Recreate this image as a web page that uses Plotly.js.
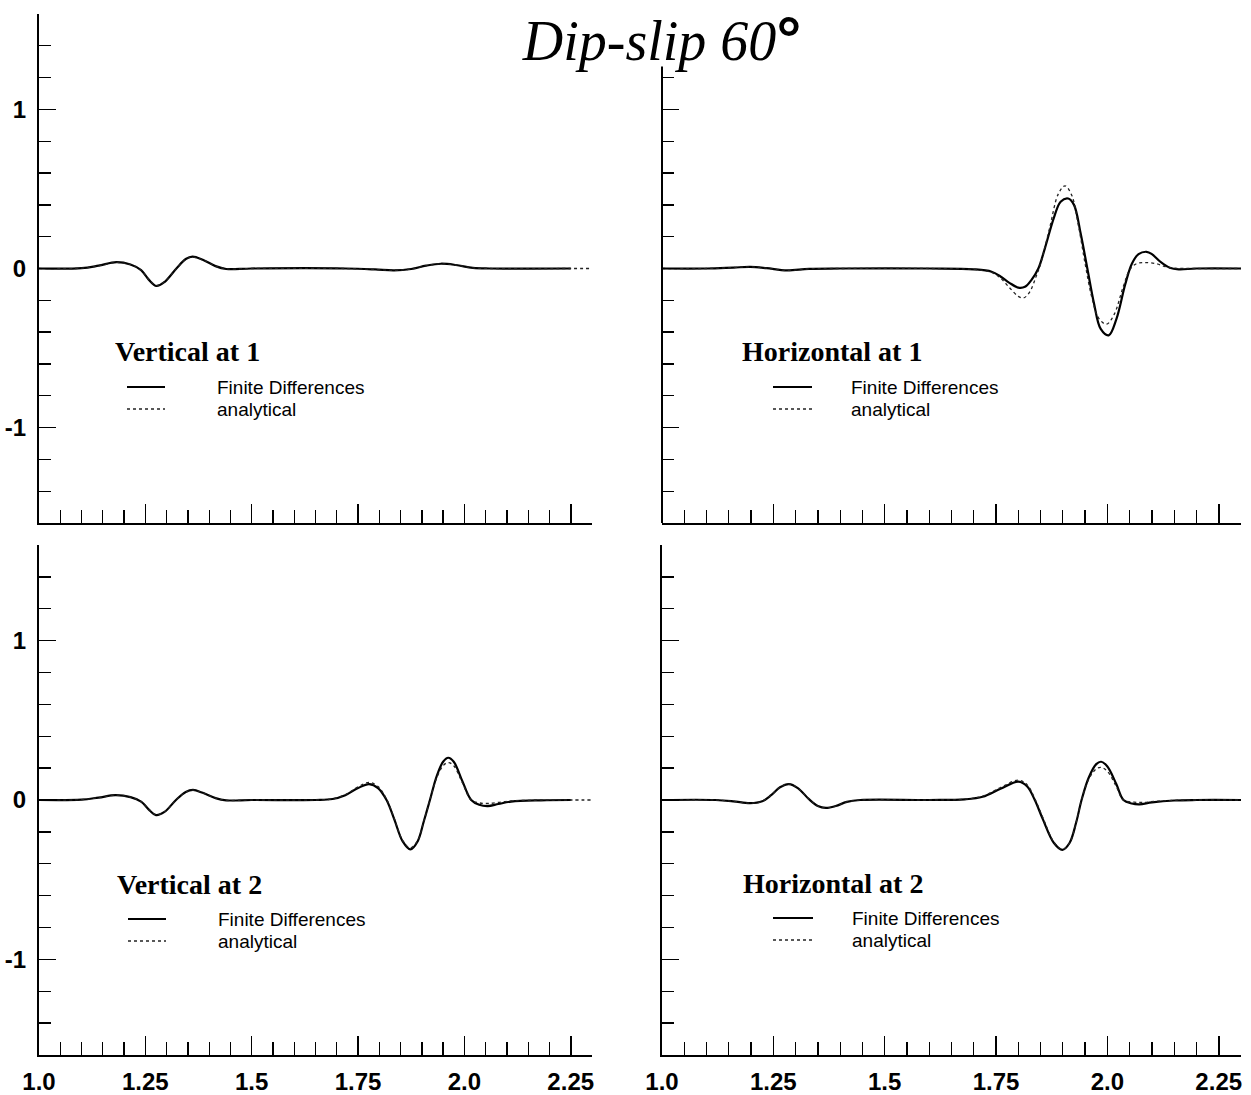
<!DOCTYPE html>
<html>
<head>
<meta charset="utf-8">
<script src="https://cdn.plot.ly/plotly-3.0.1.min.js"></script>
<style>html,body{margin:0;padding:0;background:#fff;}#chart{width:1251px;height:1095px;}</style>
</head>
<body>
<div id="chart"></div>
<script>
// ---------- data (time, amplitude) ----------
// Vertical at 1
const tV1FD = [1.00,1.10,1.14,1.182,1.215,1.24,1.258,1.276,1.295,1.323,1.345,1.361,1.385,1.415,1.44,1.50,1.72,1.79,1.835,1.875,1.91,1.945,1.98,2.02,2.06,2.25];
const v1FD  = [0,0.002,0.018,0.04,0.025,-0.01,-0.07,-0.11,-0.085,0,0.06,0.075,0.055,0.015,-0.003,0,0,-0.006,-0.012,-0.003,0.018,0.03,0.022,0.004,0,0];
const tV1AN = [1.00,1.10,1.14,1.182,1.215,1.24,1.258,1.276,1.295,1.323,1.345,1.361,1.385,1.415,1.44,1.50,1.72,1.79,1.835,1.875,1.91,1.945,1.98,2.02,2.06,2.25,2.30];
const v1AN  = [0,0.002,0.017,0.038,0.025,-0.01,-0.068,-0.106,-0.083,0,0.058,0.072,0.054,0.015,-0.002,0,0,-0.006,-0.011,-0.003,0.018,0.029,0.022,0.004,0,0,0];

// Horizontal at 1
const tH1FD = [1.00,1.10,1.16,1.198,1.235,1.28,1.33,1.40,1.60,1.70,1.74,1.76,1.78,1.80,1.815,1.83,1.845,1.86,1.88,1.895,1.912,1.925,1.94,1.955,1.97,1.985,2.003,2.02,2.04,2.055,2.07,2.088,2.10,2.12,2.14,2.16,2.20,2.30];
const h1FD  = [0,0,0.006,0.01,0.002,-0.012,-0.002,0,0,-0.005,-0.02,-0.05,-0.09,-0.12,-0.115,-0.07,0,0.13,0.32,0.42,0.44,0.40,0.22,0,-0.22,-0.38,-0.42,-0.32,-0.10,0.03,0.09,0.105,0.09,0.04,0.005,-0.005,0,0];
const tH1AN = [1.00,1.10,1.16,1.198,1.235,1.28,1.33,1.40,1.60,1.70,1.74,1.76,1.78,1.80,1.812,1.825,1.84,1.85,1.87,1.89,1.905,1.92,1.935,1.95,1.965,1.98,1.998,2.015,2.035,2.05,2.065,2.085,2.11,2.13,2.15,2.20,2.30];
const h1AN  = [0,0,0.006,0.01,0.002,-0.012,-0.002,0,0,-0.006,-0.025,-0.06,-0.12,-0.175,-0.185,-0.15,-0.05,0.03,0.25,0.47,0.52,0.46,0.27,0.03,-0.18,-0.31,-0.35,-0.29,-0.12,-0.01,0.03,0.037,0.03,0.012,0.002,0,0];

// Vertical at 2
const tV2FD = [1.00,1.10,1.14,1.18,1.215,1.24,1.26,1.275,1.295,1.322,1.345,1.362,1.385,1.415,1.44,1.50,1.65,1.69,1.72,1.75,1.776,1.797,1.817,1.835,1.855,1.873,1.89,1.905,1.919,1.935,1.95,1.962,1.975,1.995,2.016,2.035,2.055,2.08,2.11,2.18,2.25];
const v2FD  = [0,0.002,0.015,0.03,0.018,-0.01,-0.065,-0.095,-0.075,0,0.05,0.063,0.045,0.012,-0.002,0,0,0.006,0.03,0.075,0.10,0.075,0,-0.12,-0.26,-0.31,-0.26,-0.13,0,0.15,0.24,0.265,0.24,0.12,0,-0.03,-0.038,-0.025,-0.01,-0.002,0];
const tV2AN = [1.00,1.10,1.14,1.18,1.215,1.24,1.26,1.275,1.295,1.322,1.345,1.362,1.385,1.415,1.44,1.50,1.65,1.69,1.72,1.75,1.776,1.797,1.817,1.835,1.855,1.873,1.89,1.905,1.919,1.935,1.95,1.962,1.975,1.995,2.016,2.035,2.055,2.08,2.11,2.18,2.25,2.30];
const v2AN  = [0,0.002,0.015,0.03,0.018,-0.01,-0.063,-0.093,-0.074,0,0.05,0.062,0.045,0.012,-0.002,0,0,0.007,0.033,0.082,0.11,0.084,0.005,-0.115,-0.255,-0.30,-0.255,-0.13,0,0.14,0.215,0.235,0.215,0.11,0,-0.018,-0.022,-0.015,-0.006,-0.001,0,0];

// Horizontal at 2
const tH2FD = [1.00,1.12,1.16,1.198,1.225,1.245,1.265,1.285,1.305,1.33,1.35,1.368,1.39,1.415,1.445,1.60,1.68,1.72,1.76,1.80,1.82,1.837,1.855,1.88,1.899,1.915,1.93,1.942,1.958,1.975,1.986,2.00,2.02,2.036,2.055,2.072,2.10,2.15,2.20,2.30];
const h2FD  = [0,0,-0.008,-0.02,-0.008,0.03,0.08,0.10,0.075,0.005,-0.038,-0.05,-0.038,-0.012,0,0,0.004,0.02,0.07,0.115,0.085,0,-0.12,-0.27,-0.313,-0.27,-0.14,0,0.14,0.225,0.24,0.21,0.10,0,-0.022,-0.027,-0.015,-0.003,0,0];
const tH2AN = [1.00,1.12,1.16,1.198,1.225,1.245,1.265,1.285,1.305,1.33,1.35,1.368,1.39,1.415,1.445,1.60,1.68,1.72,1.76,1.80,1.82,1.837,1.855,1.88,1.899,1.915,1.93,1.942,1.958,1.975,1.986,2.00,2.02,2.036,2.06,2.08,2.11,2.15,2.20,2.30];
const h2AN  = [0,0,-0.008,-0.02,-0.008,0.03,0.08,0.10,0.075,0.005,-0.038,-0.05,-0.038,-0.012,0,0,0.005,0.024,0.078,0.125,0.095,0.008,-0.11,-0.265,-0.31,-0.27,-0.14,0,0.13,0.195,0.205,0.18,0.085,0,-0.013,-0.015,-0.008,-0.002,0,0];

// axis ticks
const xMajor = [1.0,1.25,1.5,1.75,2.0,2.25];
const xMajorText = ['1.0','1.25','1.5','1.75','2.0','2.25'];
const xMinor = [1.05,1.1,1.15,1.2,1.3,1.35,1.4,1.45,1.55,1.6,1.65,1.7,1.8,1.85,1.9,1.95,2.05,2.1,2.15,2.2,2.3];
const yMajor = [-1,0,1];
const yMajorText = ['-1','0','1'];
const yMinor = [-1.6,-1.4,-1.2,-0.8,-0.6,-0.4,-0.2,0.2,0.4,0.6,0.8,1.2,1.4,1.6];
const yMinorClipped = [-1.6,-1.4,-1.2,-0.8,-0.6,-0.4,-0.2,0.2,0.4,0.6,0.8,1.2];

const panelTitles = ['Vertical at 1','Horizontal at 1','Vertical at 2','Horizontal at 2'];
const seriesNames = ['Finite Differences','analytical'];

// ---------- layout helpers ----------
const W = 1251, H = 1095;
const px = v => v / W;
const py = v => 1 - v / H;

const colL = [px(39), px(592)], colR = [px(662), px(1241)];
const rowT = [py(523), py(14)], rowB = [py(1055), py(545)];

function fd(x, y, ax) {
  return {x: x, y: y, xaxis: 'x' + ax, yaxis: 'y' + ax, mode: 'lines', type: 'scatter',
    line: {color: '#000', width: 2.2, shape: 'spline', smoothing: 1}, showlegend: false, hoverinfo: 'skip'};
}
function an(x, y, ax) {
  return {x: x, y: y, xaxis: 'x' + ax, yaxis: 'y' + ax, mode: 'lines', type: 'scatter',
    line: {color: '#222', width: 1.3, dash: 'dot', shape: 'spline', smoothing: 1}, showlegend: false, hoverinfo: 'skip'};
}

const data = [
  fd(tV1FD, v1FD, ''), an(tV1AN, v1AN, ''),
  fd(tH1FD, h1FD, '2'), an(tH1AN, h1AN, '2'),
  fd(tV2FD, v2FD, '3'), an(tV2AN, v2AN, '3'),
  fd(tH2FD, h2FD, '4'), an(tH2AN, h2AN, '4')
];

const tickFont = {family: 'Liberation Sans, Arial, sans-serif', size: 24, color: '#000', weight: 'bold'};

function xax(domain, anchor, labels) {
  return {domain: domain, anchor: anchor, range: [1.0, 2.3], showline: true, linecolor: '#000', linewidth: 2,
    ticks: 'inside', tickmode: 'array', tickvals: xMajor, ticktext: xMajorText, ticklen: 19, tickwidth: 1.6, tickcolor: '#000',
    minor: {tickmode: 'array', tickvals: xMinor, ticks: 'inside', ticklen: 13, tickwidth: 1.3, tickcolor: '#000', showgrid: false},
    showticklabels: labels, tickfont: tickFont, ticklabelstandoff: 4,
    showgrid: false, zeroline: false, fixedrange: true};
}
function yax(domain, anchor, labels, showline, minorVals) {
  return {domain: domain, anchor: anchor, range: [-1.6, 1.6], showline: showline, linecolor: '#000', linewidth: 2,
    ticks: 'inside', tickmode: 'array', tickvals: yMajor, ticktext: yMajorText, ticklen: 17, tickwidth: 1.6, tickcolor: '#000',
    minor: {tickmode: 'array', tickvals: minorVals, ticks: 'inside', ticklen: 12, tickwidth: 1.3, tickcolor: '#000', showgrid: false},
    showticklabels: labels, tickfont: tickFont, ticklabelstandoff: 6,
    showgrid: false, zeroline: false, fixedrange: true};
}

// legend blocks: [title x, title y, line x0, line x1, solid y, dotted y, text x]
const legendPos = [
  [113, 352, 127, 165, 387, 409, 215],
  [740, 352, 773, 812, 387, 409, 849],
  [115, 884, 128, 166, 919, 941, 216],
  [741, 883, 773, 813, 918, 940, 850]
];

const annotations = [];
const shapes = [];
legendPos.forEach((p, i) => {
  annotations.push({xref: 'paper', yref: 'paper', x: px(p[0]), y: py(p[1]), xanchor: 'left', yanchor: 'middle',
    text: panelTitles[i], showarrow: false,
    font: {family: 'Liberation Serif, Times New Roman, serif', size: 28, color: '#000', weight: 'bold'}});
  annotations.push({xref: 'paper', yref: 'paper', x: px(p[6]), y: py(p[4]), xanchor: 'left', yanchor: 'middle',
    text: seriesNames[0], showarrow: false,
    font: {family: 'Liberation Sans, Arial, sans-serif', size: 19, color: '#000'}});
  annotations.push({xref: 'paper', yref: 'paper', x: px(p[6]), y: py(p[5]), xanchor: 'left', yanchor: 'middle',
    text: seriesNames[1], showarrow: false,
    font: {family: 'Liberation Sans, Arial, sans-serif', size: 19, color: '#000'}});
  shapes.push({type: 'line', xref: 'paper', yref: 'paper', x0: px(p[2]), x1: px(p[3]), y0: py(p[4]), y1: py(p[4]),
    line: {color: '#000', width: 2.2}});
  shapes.push({type: 'line', xref: 'paper', yref: 'paper', x0: px(p[2]), x1: px(p[3]), y0: py(p[5]), y1: py(p[5]),
    line: {color: '#222', width: 1.3, dash: 'dot'}});
});
// top-right y axis line stops below the title
shapes.push({type: 'line', xref: 'x2 domain', yref: 'y2', x0: 0, x1: 0, y0: -1.6, y1: 1.27,
  line: {color: '#000', width: 2}});

const layout = {
  width: W, height: H,
  margin: {l: 0, r: 0, t: 0, b: 0},
  paper_bgcolor: '#fff', plot_bgcolor: '#fff',
  showlegend: false,
  title: {text: "<i>Dip-slip 60</i><span style='font-family:Liberation Sans;font-style:normal;font-weight:bold;font-size:62px'>°</span>",
    font: {family: 'Liberation Serif, Times New Roman, serif', size: 56, color: '#000'},
    x: px(662), xref: 'paper', xanchor: 'center', y: 1 - 40 / H, yref: 'container', yanchor: 'middle'},
  xaxis: xax(colL, 'y', false),
  yaxis: yax(rowT, 'x', true, true, yMinor),
  xaxis2: xax(colR, 'y2', false),
  yaxis2: yax(rowT, 'x2', false, false, yMinorClipped),
  xaxis3: xax(colL, 'y3', true),
  yaxis3: yax(rowB, 'x3', true, true, yMinor),
  xaxis4: xax(colR, 'y4', true),
  yaxis4: yax(rowB, 'x4', false, true, yMinor),
  annotations: annotations,
  shapes: shapes
};

Plotly.newPlot('chart', data, layout, {displayModeBar: false, staticPlot: true});
</script>
</body>
</html>
